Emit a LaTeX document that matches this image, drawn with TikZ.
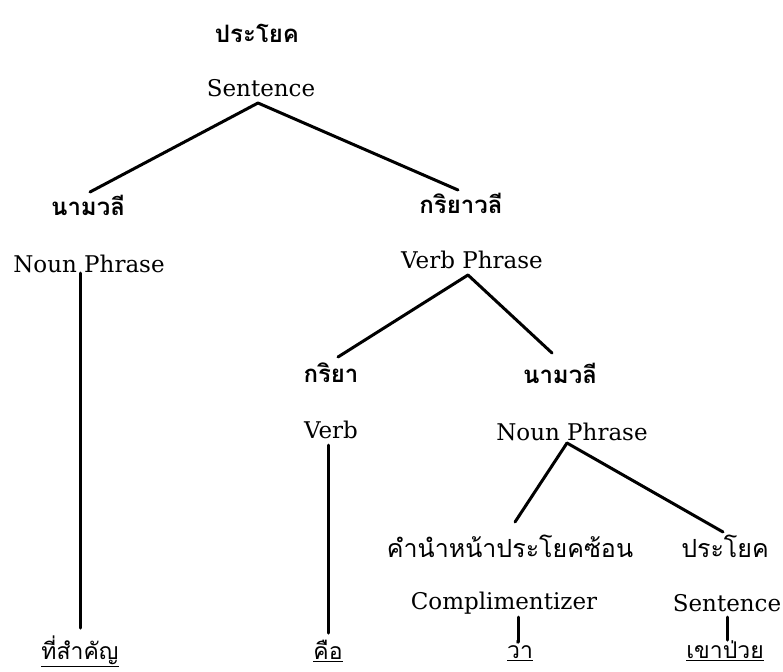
\documentclass[tikz,border=0pt]{standalone}
\usepackage{fontspec}
\setmainfont{DejaVu Serif}
\newfontfamily\thai[Script=Thai]{Loma}
\begin{document}
\begin{tikzpicture}[x=1pt,y=-1pt,
  en/.style={font=\fontsize{23}{27}\selectfont, inner sep=0pt},
  thb/.style={font=\thai\bfseries\fontsize{24}{28}\selectfont, inner sep=0pt},
  th/.style={font=\thai\fontsize{25}{29}\selectfont, inner sep=0pt},
  leaf/.style={font=\thai\fontsize{23}{27}\selectfont, inner sep=0pt},
  br/.style={line width=3pt, line cap=round}]
\useasboundingbox (0,0) rectangle (783,671);
% level 0
\node[thb] (t0) at (257,33) {ประโยค};
\node[en] (s0) at (261,88) {Sentence};
% level 1
\node[thb] (t1) at (88,205) {นามวลี};
\node[en] (np1) at (89,264) {Noun Phrase};
\node[thb] (t2) at (461,203) {กริยาวลี};
\node[en] (vp) at (472,260) {Verb Phrase};
% level 2
\node[thb] (t3) at (331,373) {กริยา};
\node[en] (v) at (331,430) {Verb};
\node[thb] (t4) at (560,373) {นามวลี};
\node[en] (np2) at (572,432) {Noun Phrase};
% level 3
\node[th] (t5) at (510,546) {คำนำหน้าประโยคซ้อน};
\node[en] (c) at (504,603) {Complimentizer};
\node[th] (t6) at (725,546) {ประโยค};
\node[en] (s1) at (727,603) {Sentence};
% leaves
\node[leaf] (w1) at (80,651) {\underline{ที่สำคัญ}};
\node[leaf] (w2) at (328,651) {\underline{คือ}};
\node[leaf] (w3) at (520,651) {\underline{ว่า}};
\node[leaf] (w4) at (725,651) {\underline{เขาป่วย}};
% connectors
\draw[br] ([shift={(-3,15)}]s0.center) -- ([shift={(2,-13)}]t1.center);
\draw[br] ([shift={(-3,15)}]s0.center) -- ([shift={(-3,-13)}]t2.center);
\draw[br] ([shift={(-9,9)}]np1.center) -- ([shift={(0,-23)}]w1.center);
\draw[br] ([shift={(-4,15)}]vp.center) -- ([shift={(7,-16)}]t3.center);
\draw[br] ([shift={(-4,15)}]vp.center) -- ([shift={(-8,-20)}]t4.center);
\draw[br] ([shift={(-3,15)}]v.center) -- ([shift={(0,-18)}]w2.center);
\draw[br] ([shift={(-5,11)}]np2.center) -- ([shift={(5,-24)}]t5.center);
\draw[br] ([shift={(-5,11)}]np2.center) -- ([shift={(-2,-14)}]t6.center);
\draw[br] ([shift={(14,14)}]c.center) -- ([shift={(-2,-9)}]w3.center);
\draw[br] ([shift={(0,14)}]s1.center) -- ([shift={(2,-11)}]w4.center);
\end{tikzpicture}
\end{document}
